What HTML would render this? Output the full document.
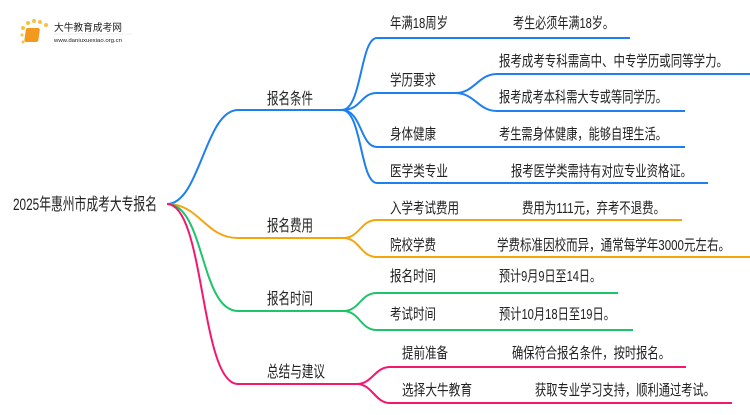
<!DOCTYPE html>
<html><head><meta charset="utf-8"><style>
body{margin:0;background:#fff;}
svg text{font-family:"Liberation Sans","Noto Sans CJK SC",sans-serif;fill:#222;}
</style></head><body>
<svg width="750" height="410" xmlns="http://www.w3.org/2000/svg">
<g>
<circle cx="23" cy="28" r="2" fill="#f5c242"/><circle cx="28" cy="23" r="2" fill="#f5c242"/><circle cx="34" cy="21" r="2" fill="#f5c242"/><circle cx="40" cy="22" r="2" fill="#f5c242"/><circle cx="46" cy="25" r="2" fill="#f5c242"/><circle cx="22" cy="35" r="1.5" fill="#f5c242"/><circle cx="23" cy="42" r="1.5" fill="#f5c242"/>
<rect x="30" y="28" width="14" height="14" rx="2" fill="#f39a1e" transform="skewX(-8)"/>
<text x="54" y="31" font-size="10" fill="#444" textLength="68" lengthAdjust="spacingAndGlyphs">大牛教育成考网</text>
<line x1="54" y1="34" x2="132" y2="34" stroke="#ddd" stroke-width="0.6"/>
<text x="54" y="42" font-size="5.5" fill="#666" textLength="68" lengthAdjust="spacingAndGlyphs">www.daniuxuexiao.org.cn</text>
</g>
<g fill="none" stroke-width="2">
<path d="M167 204 C200 204,205 110,238 110 L342 110" stroke="#1e7ff0"/>
<path d="M342 110 C362 110,360 38,377 38 L630 38" stroke="#1e7ff0"/>
<path d="M342 110 C362 110,360 93,377 93 L455 93" stroke="#1e7ff0"/>
<path d="M455 93 C475 93,478 74,497 74 L750 74" stroke="#1e7ff0"/>
<path d="M455 93 C475 93,478 111,497 111 L685 111" stroke="#1e7ff0"/>
<path d="M342 110 C362 110,360 147,377 147 L685 147" stroke="#1e7ff0"/>
<path d="M342 110 C362 110,360 183,377 183 L708 183" stroke="#1e7ff0"/>
<path d="M167 204 C200 204,205 238,238 238 L343 238" stroke="#f5a50c"/>
<path d="M343 238 C360 238,360 220,377 220 L682 220" stroke="#f5a50c"/>
<path d="M343 238 C360 238,360 257,377 257 L750 257" stroke="#f5a50c"/>
<path d="M167 204 C205 204,200 311,238 311 L343 311" stroke="#1dc46a"/>
<path d="M343 311 C360 311,360 293,377 293 L618 293" stroke="#1dc46a"/>
<path d="M343 311 C360 311,360 330,377 330 L633 330" stroke="#1dc46a"/>
<path d="M167 204 C205 204,200 384,238 384 L357 384" stroke="#f5166e"/>
<path d="M357 384 C372 384,375 367,390 367 L686 367" stroke="#f5166e"/>
<path d="M357 384 C372 384,375 403,390 403 L732 403" stroke="#f5166e"/>
</g>
<g lengthAdjust="spacingAndGlyphs">
<text x="13" y="210" font-size="17" textLength="144" lengthAdjust="spacingAndGlyphs">2025年惠州市成考大专报名</text>
<g font-size="16">
<text x="267" y="104" textLength="46" lengthAdjust="spacingAndGlyphs">报名条件</text>
<text x="267" y="231" textLength="46" lengthAdjust="spacingAndGlyphs">报名费用</text>
<text x="267" y="304" textLength="46" lengthAdjust="spacingAndGlyphs">报名时间</text>
<text x="267" y="377" textLength="58" lengthAdjust="spacingAndGlyphs">总结与建议</text>
</g>
<g font-size="15">
<text x="390" y="28" textLength="58" lengthAdjust="spacingAndGlyphs">年满18周岁</text><text x="513" y="28" textLength="101" lengthAdjust="spacingAndGlyphs">考生必须年满18岁。</text>
<text x="390" y="85" textLength="46" lengthAdjust="spacingAndGlyphs">学历要求</text>
<text x="499" y="66" textLength="229" lengthAdjust="spacingAndGlyphs">报考成考专科需高中、中专学历或同等学力。</text>
<text x="499" y="102" textLength="168" lengthAdjust="spacingAndGlyphs">报考成考本科需大专或等同学历。</text>
<text x="390" y="139" textLength="46" lengthAdjust="spacingAndGlyphs">身体健康</text><text x="499" y="139" textLength="168" lengthAdjust="spacingAndGlyphs">考生需身体健康，能够自理生活。</text>
<text x="390" y="176" textLength="58" lengthAdjust="spacingAndGlyphs">医学类专业</text><text x="511" y="176" textLength="181" lengthAdjust="spacingAndGlyphs">报考医学类需持有对应专业资格证。</text>
<text x="390" y="213" textLength="69" lengthAdjust="spacingAndGlyphs">入学考试费用</text><text x="522" y="213" textLength="143" lengthAdjust="spacingAndGlyphs">费用为111元，弃考不退费。</text>
<text x="390" y="250" textLength="46" lengthAdjust="spacingAndGlyphs">院校学费</text><text x="497" y="250" textLength="233" lengthAdjust="spacingAndGlyphs">学费标准因校而异，通常每学年3000元左右。</text>
<text x="390" y="281" textLength="46" lengthAdjust="spacingAndGlyphs">报名时间</text><text x="499" y="281" textLength="102" lengthAdjust="spacingAndGlyphs">预计9月9日至14日。</text>
<text x="390" y="319" textLength="46" lengthAdjust="spacingAndGlyphs">考试时间</text><text x="499" y="319" textLength="116" lengthAdjust="spacingAndGlyphs">预计10月18日至19日。</text>
<text x="402" y="358" textLength="46" lengthAdjust="spacingAndGlyphs">提前准备</text><text x="512" y="358" textLength="158" lengthAdjust="spacingAndGlyphs">确保符合报名条件，按时报名。</text>
<text x="402" y="395" textLength="70" lengthAdjust="spacingAndGlyphs">选择大牛教育</text><text x="535" y="395" textLength="180" lengthAdjust="spacingAndGlyphs">获取专业学习支持，顺利通过考试。</text>
</g>
</g>
</svg>
</body></html>
